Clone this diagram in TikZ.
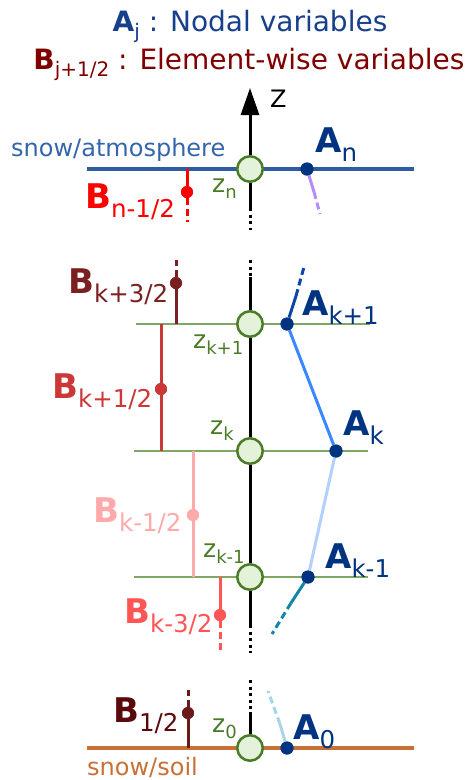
\documentclass[tikz,border=0pt]{standalone}
\usepackage{fontspec}
\setmainfont{DejaVu Sans}
\usetikzlibrary{arrows.meta}
\definecolor{ttblue}{HTML}{173F8C}
\definecolor{ttred}{HTML}{800000}
\definecolor{anavy}{HTML}{003380}
\definecolor{atmblue}{HTML}{2F5B9F}
\definecolor{atmtext}{HTML}{3565AA}
\definecolor{soil}{HTML}{C87137}
\definecolor{zgreen}{HTML}{4A7B26}
\definecolor{zfill}{HTML}{E3F2D9}
\definecolor{grid}{HTML}{7FA865}
\definecolor{bn}{HTML}{FF0000}
\definecolor{bkpp}{HTML}{7A2020}
\definecolor{bkp}{HTML}{CC3737}
\definecolor{bkm}{HTML}{FFAAAA}
\definecolor{bkmm}{HTML}{FF5555}
\definecolor{bzero}{HTML}{6B1A1A}
\definecolor{bzerotxt}{HTML}{5A0A0A}
\definecolor{lavender}{HTML}{B38CFF}
\definecolor{akpdash}{HTML}{0B46A8}
\definecolor{akpline}{HTML}{3A88FF}
\definecolor{akmline}{HTML}{B3D1FF}
\definecolor{teal}{HTML}{1485A8}
\definecolor{azdash}{HTML}{A6D6E6}

\newcommand{\varlab}[2]{\fontsize{34}{34}\selectfont\textbf{#1}\raisebox{-9pt}{\fontsize{24.5}{24.5}\selectfont #2}}
\newcommand{\zlab}[1]{\fontsize{25}{25}\selectfont z\raisebox{-6pt}{\fontsize{18}{18}\selectfont #1}}

\begin{document}
\begin{tikzpicture}[x=1pt, y=-1pt,
  zcirc/.style={circle, draw=zgreen, fill=zfill, line width=2.5pt, minimum size=25.5pt, inner sep=0pt},
  adot/.style={circle, fill=anavy, minimum size=13pt, inner sep=0pt},
  bdot/.style={circle, minimum size=12pt, inner sep=0pt},
  lab/.style={anchor=base west, inner sep=0pt},
  axis/.style={line width=3pt, black},
  dots/.style={dash pattern=on 3pt off 3.5pt},
  tail/.style={dash pattern=on 7pt off 4pt},
  bline/.style={line width=3pt},
  aline/.style={line width=3pt},
  gridline/.style={grid, line width=1.5pt}]

\useasboundingbox (0,0) rectangle (469,780);

% Title
\node[anchor=base, inner sep=0pt, text=ttblue, font=\fontsize{28}{28}\selectfont] (title1) at (250,31)
  {\textbf{A}\raisebox{-7pt}{\fontsize{20}{20}\selectfont j} : Nodal variables};
\node[anchor=base, inner sep=0pt, text=ttred, font=\fontsize{28}{28}\selectfont] (title2) at (249,69)
  {\textbf{B}\raisebox{-7pt}{\fontsize{20}{20}\selectfont j+1/2} : Element-wise variables};

% --- Layers (drawn first) ---
\draw[atmblue, line width=4pt] (87,169) -- (414,169);
\draw[soil, line width=4pt] (87,748) -- (414,748);
\draw[gridline] (136,324) -- (370,324);
\draw[gridline] (134,451) -- (368,451);
\draw[gridline] (134,577) -- (368,577);

\node[lab, text=atmtext, font=\fontsize{24}{24}\selectfont] (atm) at (11,156) {snow/atmosphere};
\node[lab, text=soil, font=\fontsize{24}{24}\selectfont] (soiltxt) at (87,775) {snow/soil};

% --- Nodes on the z axis ---
\node[zcirc] (zn) at (250,169) {};
\node[zcirc] (zk1) at (250,324) {};
\node[zcirc] (zk) at (250,451) {};
\node[zcirc] (zkm1) at (250,577) {};
\node[zcirc] (z0) at (250,748) {};

% --- Axis ---
\coordinate (ztop) at (250,88);
\coordinate (zn solid) at (250,208);
\coordinate (zn dots) at (250,230);
\coordinate (zk1 dots) at (250,260);
\coordinate (zk1 solid) at (250,277);
\coordinate (zkm1 solid) at (250,625);
\coordinate (zkm1 dots) at (250,653);
\coordinate (z0 dots) at (250,680);
\coordinate (z0 solid) at (250,712);
\draw[axis, -{Triangle[length=27pt, width=18pt]}] (zn) -- (ztop);
\draw[axis] (zn) -- (zn solid);
\draw[axis, dots] (zn solid) -- (zn dots);
\draw[axis, dots] (zk1 dots) -- (zk1 solid);
\draw[axis] (zk1 solid) -- (zk1) -- (zk) -- (zkm1) -- (zkm1 solid);
\draw[axis, dots] (zkm1 solid) -- (zkm1 dots);
\draw[axis, dots] (z0 dots) -- (z0 solid);
\draw[axis] (z0 solid) -- (z0);
\node[lab, font=\fontsize{24}{24}\selectfont] (zaxis) at (270,107) {Z};

% --- Element-wise variables B ---
% B n-1/2
\coordinate (bn top) at (187,169);
\coordinate (bn end) at (187,222);
\node[bdot, fill=bn] (bnd) at (187,192) {};
\draw[bline, bn] (bn top) -- (bnd);
\draw[bline, bn, tail] (bnd) -- (bn end);
% B k+3/2
\coordinate (bkpp end) at (176,260);
\coordinate (bkpp bot) at (176,324);
\node[bdot, fill=bkpp] (bkppd) at (176,283) {};
\draw[bline, bkpp] (bkpp bot) -- (bkppd);
\draw[bline, bkpp, tail] (bkppd) -- (bkpp end);
% B k+1/2
\coordinate (bkp top) at (161,324);
\coordinate (bkp bot) at (161,451);
\node[bdot, fill=bkp] (bkpd) at (161,389) {};
\draw[bline, bkp] (bkp top) -- (bkp bot);
% B k-1/2
\coordinate (bkm top) at (193,451);
\coordinate (bkm bot) at (193,577);
\node[bdot, fill=bkm] (bkmd) at (193,515) {};
\draw[bline, bkm] (bkm top) -- (bkm bot);
% B k-3/2
\coordinate (bkmm top) at (220,577);
\coordinate (bkmm end) at (220,653);
\node[bdot, fill=bkmm] (bkmmd) at (220,615) {};
\draw[bline, bkmm] (bkmm top) -- (bkmmd);
\draw[bline, bkmm, tail] (bkmmd) -- (bkmm end);
% B 1/2
\coordinate (bz bot) at (188,748);
\coordinate (bz end) at (188,690);
\node[bdot, fill=bzero] (bzd) at (188,713) {};
\draw[bline, bzero] (bz bot) -- (bzd);
\draw[bline, bzero, tail] (bzd) -- (bz end);

% --- Nodal variables A ---
\node[adot] (an) at (307,169) {};
\node[adot] (ak1) at (287,324) {};
\node[adot] (ak) at (336,451) {};
\node[adot] (akm1) at (308,577) {};
\node[adot] (a0) at (287,748) {};

\coordinate (an mid) at (314,192);
\coordinate (an end) at (320,214);
\draw[aline, lavender] (an) -- (an mid);
\draw[aline, lavender, tail] (an mid) -- (an end);

\coordinate (ak1 mid) at (296,296);
\coordinate (ak1 end) at (304,267);
\draw[aline, akpdash] (ak1) -- (ak1 mid);
\draw[aline, akpdash, tail] (ak1 mid) -- (ak1 end);

\draw[aline, akpline] (ak1) -- (ak);
\draw[aline, akmline] (ak) -- (akm1);

\coordinate (akm1 mid) at (291,603);
\coordinate (akm1 end) at (272,634);
\draw[aline, teal] (akm1) -- (akm1 mid);
\draw[aline, teal, tail] (akm1 mid) -- (akm1 end);

\coordinate (a0 mid) at (280,724);
\coordinate (a0 end) at (268,691);
\draw[aline, azdash] (a0) -- (a0 mid);
\draw[aline, azdash, tail] (a0 mid) -- (a0 end);

% redraw dots on top
\node[adot] at (an) {};
\node[adot] at (ak1) {};
\node[adot] at (ak) {};
\node[adot] at (akm1) {};
\node[adot] at (a0) {};
\node[bdot, fill=bn] at (bnd) {};
\node[bdot, fill=bkpp] at (bkppd) {};
\node[bdot, fill=bkp] at (bkpd) {};
\node[bdot, fill=bkm] at (bkmd) {};
\node[bdot, fill=bkmm] at (bkmmd) {};
\node[bdot, fill=bzero] at (bzd) {};

% --- Labels ---
\node[lab, text=anavy] (an lab) at (315,152) {\varlab{A}{n}};
\node[lab, text=anavy] (ak1 lab) at (302,315) {\varlab{A}{k+1}};
\node[lab, text=anavy] (ak lab) at (343,435) {\varlab{A}{k}};
\node[lab, text=anavy] (akm1 lab) at (325,568) {\varlab{A}{k-1}};
\node[lab, text=anavy] (a0 lab) at (293,739) {\varlab{A}{0}};

\node[lab, text=bn] (bn lab) at (85,208) {\varlab{B}{n-1/2}};
\node[lab, text=bkpp] (bkpp lab) at (68,293) {\varlab{B}{k+3/2}};
\node[lab, text=bkp] (bkp lab) at (52,398) {\varlab{B}{k+1/2}};
\node[lab, text=bkm] (bkm lab) at (93,522) {\varlab{B}{k-1/2}};
\node[lab, text=bkmm] (bkmm lab) at (124,623) {\varlab{B}{k-3/2}};
\node[lab, text=bzerotxt] (bz lab) at (113,722) {\varlab{B}{1/2}};

\node[lab, text=zgreen] (zn lab) at (212,192) {\zlab{n}};
\node[lab, text=zgreen] (zk1 lab) at (193,348) {\zlab{k+1}};
\node[lab, text=zgreen] (zk lab) at (210,434) {\zlab{k}};
\node[lab, text=zgreen] (zkm1 lab) at (203,557) {\zlab{k-1}};
\node[lab, text=zgreen] (z0 lab) at (212,732) {\zlab{0}};

\end{tikzpicture}
\end{document}
